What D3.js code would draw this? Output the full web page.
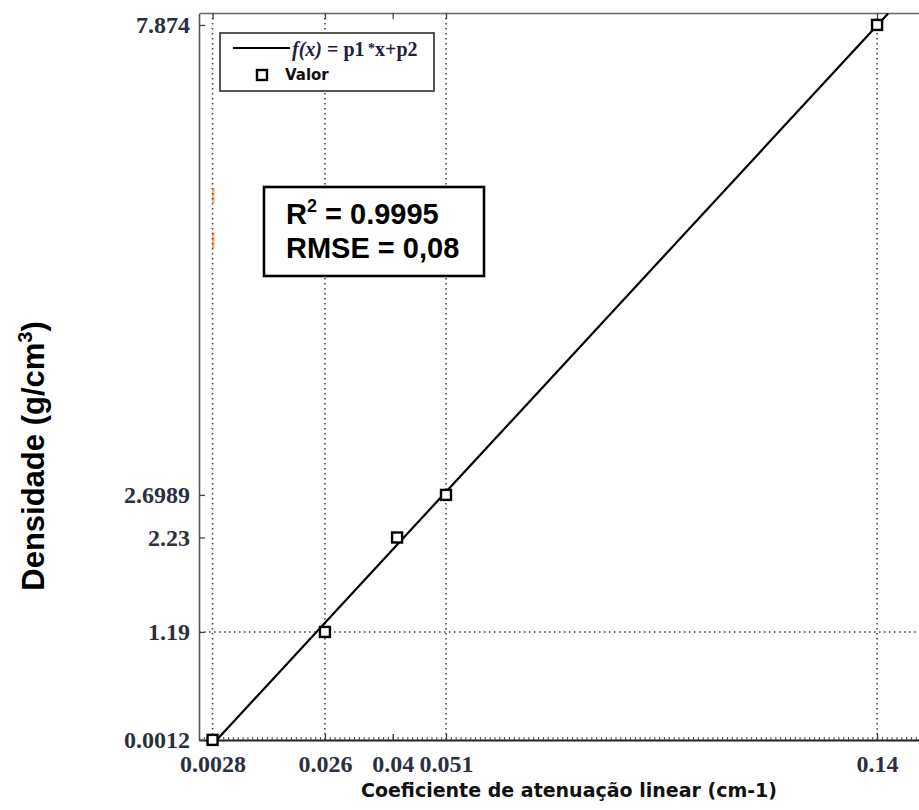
<!DOCTYPE html>
<html>
<head>
<meta charset="utf-8">
<script src="https://cdn.jsdelivr.net/npm/d3@7"></script>
<style>
  html, body { margin: 0; padding: 0; background: #fff; }
  svg { display: block; }
</style>
</head>
<body>
<div id="chart"></div>
<script>
// ---------- data ----------
const xValues = [0.0028, 0.026, 0.0409, 0.051, 0.14];
const yValues = [0.0012, 1.19, 2.23, 2.6989, 7.874];
const xTickValues = [0.0028, 0.026, 0.04, 0.051, 0.14];
const xTickLabels = ["0.0028", "0.026", "0.04", "0.051", "0.14"];
const yTickValues = [0.0012, 1.19, 2.23, 2.6989, 7.874];
const yTickLabels = ["0.0012", "1.19", "2.23", "2.6989", "7.874"];
const xGridValues = [0.0028, 0.026, 0.051, 0.14];
const yGridValues = [1.19];
const fitP1 = 57.7;
const fitP2 = -0.21;
const statLines = ["R2 = 0.9995", "RMSE = 0,08"];

// ---------- layout ----------
const W = 919, H = 810;
const plotLeft = 199, plotTop = 13, plotBottom = 740;
const xScale = d3.scaleLinear().domain([0, 0.15]).range([plotLeft, 925.5]);
const yScale = d3.scaleLinear().domain([0, 8]).range([plotBottom, plotTop + 0.5]);

const svg = d3.select("#chart").append("svg")
  .attr("width", W).attr("height", H)
  .style("background", "#fff");

const serif = "'Liberation Serif', 'Times New Roman', serif";
const labelColor = "#2b3040";

// stray orange marks
svg.append("g").selectAll("rect")
  .data([[188, 203], [232, 248]])
  .join("rect")
  .attr("x", 212).attr("y", d => d[0])
  .attr("width", 2.5).attr("height", d => d[1] - d[0])
  .attr("fill", "#f3b26e");

// grid lines (dotted)
const grid = svg.append("g").attr("stroke", "#444").attr("stroke-width", 1.6)
  .attr("stroke-dasharray", "1.6,3.4");
grid.selectAll("line.vx").data(xGridValues).join("line")
  .attr("class", "vx")
  .attr("x1", d => xScale(d)).attr("x2", d => xScale(d))
  .attr("y1", plotTop).attr("y2", plotBottom);
grid.selectAll("line.hy").data(yGridValues).join("line")
  .attr("class", "hy")
  .attr("x1", plotLeft).attr("x2", W)
  .attr("y1", d => yScale(d)).attr("y2", d => yScale(d));

// axes
const fmtX = d => xTickLabels[xTickValues.indexOf(d)];
const fmtY = d => yTickLabels[yTickValues.indexOf(d)];

const xAxis = svg.append("g").attr("transform", `translate(0,${plotBottom})`)
  .call(d3.axisBottom(xScale).tickValues(xTickValues).tickFormat(fmtX)
    .tickSizeInner(-6).tickSizeOuter(0).tickPadding(15));
xAxis.select(".domain").attr("stroke", "#222").attr("stroke-width", 2);
xAxis.selectAll(".tick line").attr("stroke", "#333").attr("stroke-width", 1.3);
xAxis.selectAll(".tick text").attr("font-family", serif).attr("font-weight", "bold")
  .attr("font-size", 24).attr("fill", labelColor);

// minor ticks on bottom axis
const minorTicks = d3.range(0.001, 0.15, 0.001);
const xMinor = svg.append("g").attr("transform", `translate(0,${plotBottom})`)
  .call(d3.axisBottom(xScale).tickValues(minorTicks).tickFormat("")
    .tickSizeInner(-3).tickSizeOuter(0));
xMinor.select(".domain").remove();
xMinor.selectAll(".tick line").attr("stroke", "#444").attr("stroke-width", 1);

const xTop = svg.append("g").attr("transform", `translate(0,${plotTop})`)
  .call(d3.axisTop(xScale).tickValues(xTickValues).tickFormat("")
    .tickSizeInner(-6).tickSizeOuter(0));
xTop.select(".domain").attr("stroke", "#666").attr("stroke-width", 1.6);
xTop.selectAll(".tick line").attr("stroke", "#444").attr("stroke-width", 1.3);

const yAxis = svg.append("g").attr("transform", `translate(${plotLeft},0)`)
  .call(d3.axisLeft(yScale).tickValues(yTickValues).tickFormat(fmtY)
    .tickSizeInner(-6).tickSizeOuter(0).tickPadding(9));
yAxis.select(".domain").attr("stroke", "#555").attr("stroke-width", 1.6);
yAxis.selectAll(".tick line").attr("stroke", "#444").attr("stroke-width", 1.3);
yAxis.selectAll(".tick text").attr("font-family", serif).attr("font-weight", "bold")
  .attr("font-size", 24).attr("fill", labelColor);

// fitted line f(x) = p1*x + p2, clipped to the plot area
const yDom = yScale.domain();
const fitX0 = (yDom[0] - fitP2) / fitP1;
const fitX1 = (yDom[1] - fitP2) / fitP1;
svg.append("line")
  .attr("x1", xScale(fitX0)).attr("y1", yScale(fitP1 * fitX0 + fitP2))
  .attr("x2", xScale(fitX1)).attr("y2", yScale(fitP1 * fitX1 + fitP2))
  .attr("stroke", "#000").attr("stroke-width", 2.2);

// data points
const pts = xValues.map((x, i) => ({ x, y: yValues[i] }));
svg.append("g").selectAll("rect").data(pts).join("rect")
  .attr("x", d => xScale(d.x) - 5).attr("y", d => yScale(d.y) - 5)
  .attr("width", 10).attr("height", 10)
  .attr("fill", "#fff").attr("stroke", "#000").attr("stroke-width", 2.4);

// legend
const lg = svg.append("g");
lg.append("rect").attr("x", 220).attr("y", 33).attr("width", 214).attr("height", 58)
  .attr("fill", "#fff").attr("stroke", "#444").attr("stroke-width", 1.8);
lg.append("line").attr("x1", 233).attr("x2", 290).attr("y1", 48).attr("y2", 48)
  .attr("stroke", "#000").attr("stroke-width", 2.2);
const ft = lg.append("text").attr("x", 292).attr("y", 56)
  .attr("font-family", serif).attr("font-weight", "bold").attr("font-size", 20)
  .attr("fill", "#1e2040");
ft.append("tspan").attr("font-style", "italic").text("f(x)");
ft.append("tspan").text(" = p1");
ft.append("tspan").attr("font-size", 14).attr("dy", -3).text(" *");
ft.append("tspan").attr("dy", 3).text("x+p2");
lg.append("rect").attr("x", 257).attr("y", 70).attr("width", 10).attr("height", 10)
  .attr("fill", "#fff").attr("stroke", "#000").attr("stroke-width", 2.4);
lg.append("text").attr("x", 285).attr("y", 80)
  .attr("font-family", "'DejaVu Sans', sans-serif").attr("font-weight", "bold")
  .attr("font-size", 15).attr("fill", "#111").text("Valor");

// statistics box
const sb = svg.append("g");
sb.append("rect").attr("x", 264).attr("y", 187).attr("width", 220).attr("height", 89)
  .attr("fill", "#fff").attr("stroke", "#000").attr("stroke-width", 2.6);
const s1 = sb.append("text").attr("x", 286).attr("y", 224)
  .attr("font-family", "'Liberation Sans', Arial, sans-serif").attr("font-weight", "bold")
  .attr("font-size", 29).attr("fill", "#000");
s1.append("tspan").text("R");
s1.append("tspan").attr("font-size", 18).attr("dy", -12).text("2");
s1.append("tspan").attr("dy", 12).text(" = 0.9995");
sb.append("text").attr("x", 286).attr("y", 258)
  .attr("font-family", "'Liberation Sans', Arial, sans-serif").attr("font-weight", "bold")
  .attr("font-size", 29).attr("fill", "#000").text(statLines[1]);

// axis titles
svg.append("text").attr("x", 569).attr("y", 797).attr("text-anchor", "middle")
  .attr("font-family", "'DejaVu Sans', sans-serif").attr("font-weight", "bold")
  .attr("font-size", 19).attr("fill", "#111")
  .text("Coeficiente de atenuação linear (cm-1)");

const yt = svg.append("text").attr("transform", "translate(44,456) rotate(-90)")
  .attr("text-anchor", "middle")
  .attr("font-family", "'Liberation Sans', Arial, sans-serif").attr("font-weight", "bold")
  .attr("font-size", 31).attr("fill", "#000");
yt.append("tspan").text("Densidade (g/cm");
yt.append("tspan").attr("font-size", 20).attr("dy", -12).text("3");
yt.append("tspan").attr("dy", 12).text(")");
</script>
</body>
</html>
